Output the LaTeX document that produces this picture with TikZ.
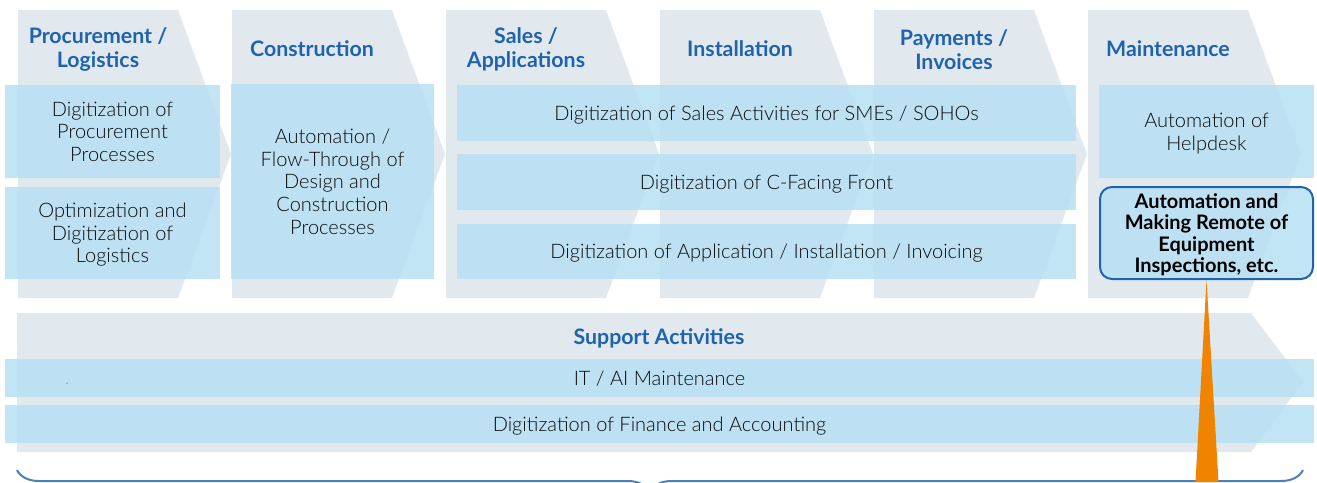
\documentclass[tikz,border=0pt]{standalone}
\usepackage{fontspec}
\setmainfont{Lato}[UprightFont=* Light, BoldFont=* Bold]
\usetikzlibrary{decorations.pathreplacing}

\definecolor{stagegray}{RGB}{226,233,238}
\definecolor{actblue}{RGB}{183,224,244}
\definecolor{headblue}{RGB}{31,99,174}
\definecolor{bracecol}{RGB}{74,128,190}
\definecolor{pinorange}{RGB}{240,131,0}
\definecolor{bodytxt}{RGB}{10,10,10}
\newdimen\px \px=0.75pt

\tikzset{
	stage/.style={fill=stagegray},
	head/.style={text=headblue, font=\bfseries\fontsize{16}{17.5}\selectfont, align=center},
	act/.style={fill=actblue, fill opacity=0.85, text opacity=1, text=bodytxt, inner sep=0pt,
		text depth=0pt, font=\fontsize{15}{17}\selectfont, align=center},
	keyact/.style={act, draw=headblue, draw opacity=1, line width=2\px, rounded corners=12\px,
		text=black, font=\bfseries\fontsize{15}{16}\selectfont},
}

\begin{document}
\begin{tikzpicture}[x=0.75pt, y=-0.75pt]
	\useasboundingbox (0,0) rectangle (1317,482);

	% value chain stages
	\foreach \i in {0,...,5}{
		\pgfmathsetmacro\xs{18+214*\i}
		\fill[stage] (\xs,10) -- ++(160,0) -- ++(53,144) -- ++(-53,144) -- ++(-160,0) -- cycle;
	}
	\fill[stage] (17,313) -- (1251,313) -- (1303,382) -- (1251,452) -- (17,452) -- cycle;

	\node[head] (procure) at (98,49.5) {Procurement /\\Logistics};
	\node[head] (construct) at (312,49) {Construction};
	\node[head] (sales) at (526,49.5) {Sales /\\Applications};
	\node[head] (install) at (740,49) {Installation};
	\node[head] (payment) at (954,49.5) {Payments /\\Invoices};
	\node[head] (maint) at (1168,49) {Maintenance};
	\node[head] (support) at (659,338) {Support Activities};

	% activities
	\node[act, minimum width=215\px, minimum height=93\px] (procdig) at (112.5,131.5)
		{Digitization of\\Procurement\\Processes};
	\node[act, minimum width=215\px, minimum height=92\px] (logopt) at (112.5,233)
		{Optimization and\\Digitization of\\Logistics};
	\node[act, minimum width=203\px, minimum height=195\px] (design) at (332.5,181.5)
		{Automation /\\Flow-Through of\\Design and\\Construction\\Processes};
	\node[act, minimum width=619\px, minimum height=56\px] (smesales) at (766.5,113)
		{Digitization of Sales Activities for SMEs / SOHOs};
	\node[act, minimum width=619\px, minimum height=56\px] (cfront) at (766.5,182)
		{Digitization of C-Facing Front};
	\node[act, minimum width=619\px, minimum height=55\px] (appinv) at (766.5,251.5)
		{Digitization of Application / Installation / Invoicing};
	\node[act, minimum width=215\px, minimum height=93\px] (helpdesk) at (1206.5,131.5)
		{Automation of\\Helpdesk};
	\node[keyact, minimum width=213\px, minimum height=92\px] (inspect) at (1206.5,233)
		{Automation and\\Making Remote of\\Equipment\\Inspections, etc.};
	\node[act, minimum width=1309\px, minimum height=38\px] (itmaint) at (659.5,378)
		{IT / AI Maintenance};
	\node[act, minimum width=1309\px, minimum height=38\px] (finance) at (659.5,424)
		{Digitization of Finance and Accounting};
	\node[circle, fill=gray, inner sep=0pt, minimum size=1.5\px] (speck) at (67,383) {};

	% brace and pointer
	\coordinate (bl) at (17,470);
	\coordinate (br) at (1303,470);
	\draw[bracecol, line width=2\px, decorate, decoration={brace, mirror, amplitude=22\px, aspect=0.492}] (bl) -- (br);
	\coordinate (pin) at (1207,482);
	\fill[pinorange] (inspect.south) -- ([xshift=-11.5\px]pin) -- ([xshift=11.5\px]pin) -- cycle;
\end{tikzpicture}
\end{document}
